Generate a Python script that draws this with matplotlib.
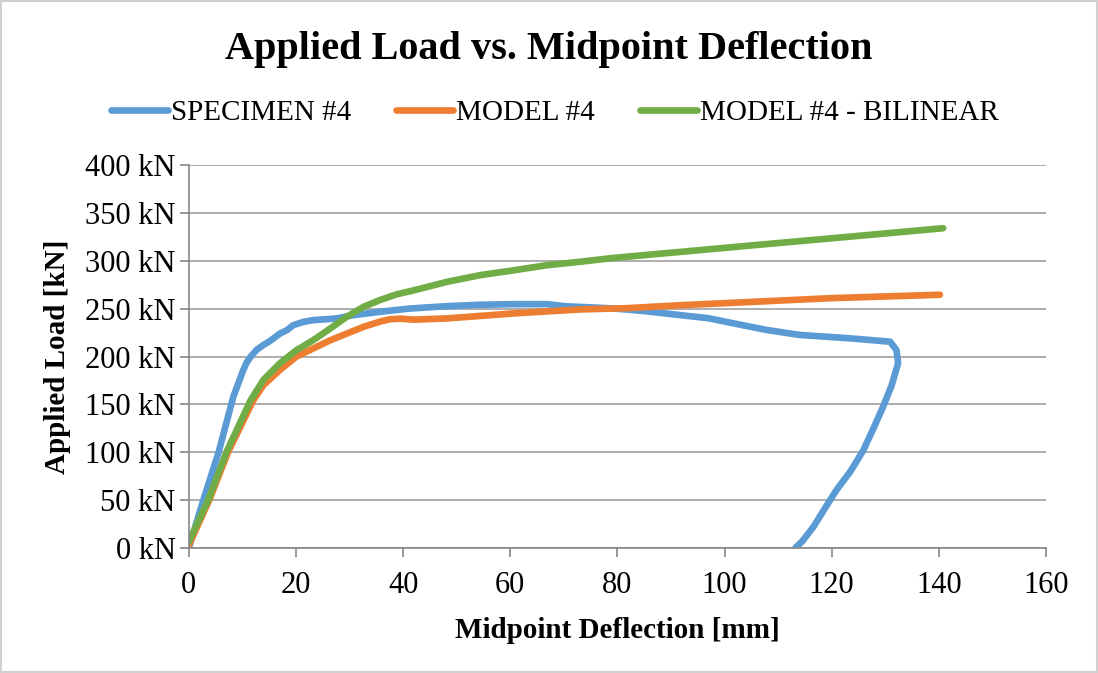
import matplotlib
matplotlib.use("Agg")
import matplotlib.pyplot as plt
from matplotlib.patches import Rectangle

# data (deflection mm, load kN)
spec_x = [0, 2.7, 5.55, 8.3, 9.5, 10.1, 10.8, 11.7, 12.65, 13.9, 15.1, 17.0, 18.3,
          19.5, 21.4, 23.2, 25.1, 27.6, 30.7, 35.7, 41.0, 48.2, 54.0, 60.6, 66.9, 70.0,
          79.3, 85.0, 91.8, 97.0, 104.9, 107.9, 114.1, 123.4, 130.9, 132.1, 132.4,
          131.2, 129.6, 127.8, 125.9, 123.5, 120.9, 118.8, 116.6, 114.5, 113.2]
spec_y = [0, 50, 100, 158, 176, 185, 194, 201, 207, 212, 216, 224, 227.5,
          232.8, 236.2, 238, 238.7, 239.8, 243.2, 246.7, 250, 252.6, 254, 254.7, 254.7, 252.6,
          250.2, 247.5, 243.2, 240, 231, 227.7, 222.5, 219, 215.5, 206.8, 193,
          170, 147.6, 125, 102, 80, 60.6, 42, 22.2, 7, 0]

model_x = [0, 3.8, 7.3, 12.0, 13.9, 17.0, 20.1, 26.4, 32.6, 35.7, 37.6, 39.5, 41.9, 48.2,
           60.6, 73.1, 81.8, 91.8, 104.9, 120.0, 140.2]
model_y = [3, 50, 100, 154, 170, 186, 200, 217, 231, 236.5, 239, 239.5, 238.5, 239.8,
           245, 249.2, 250.5, 253.6, 257, 261, 264.5]

bilin_x = [0, 3.6, 7.0, 11.5, 13.9, 17.0, 20.1, 23.2, 26.4, 29.5, 32.6,
           35.7, 38.8, 41.9, 48.2, 54.4, 60.6, 66.9, 73.1, 79.3, 91.8, 105.0, 125.0, 140.8]
bilin_y = [6.6, 50, 100, 154, 175.5, 193, 206.7, 217, 229.3, 241.6,
           251.9, 259, 265, 269, 278, 285, 290, 295.4, 299, 303, 309.3, 316, 326, 334]

series = [
    ("SPECIMEN #4", spec_x, spec_y, "#5B9BD5"),
    ("MODEL #4", model_x, model_y, "#ED7D31"),
    ("MODEL #4 - BILINEAR", bilin_x, bilin_y, "#70AD47"),
]

y_ticks = [0, 50, 100, 150, 200, 250, 300, 350, 400]
x_ticks = [0, 20, 40, 60, 80, 100, 120, 140, 160]

plt.rcParams['font.family'] = ['Liberation Serif', 'DejaVu Serif']

fig = plt.figure(figsize=(10.98, 6.73), dpi=100)
ax = fig.add_axes([0.172, 0.1857, 0.7806, 0.5691])

for name, xs, ys, col in series:
    ax.plot(xs, ys, color=col, lw=4.8, label=name, solid_capstyle='round',
            solid_joinstyle='round')

ax.set_xlim(0, 160)
ax.set_ylim(0, 400)
ax.set_xticks(x_ticks)
ax.set_yticks(y_ticks)
ax.set_yticklabels([f"{v} kN" for v in y_ticks])
ax.tick_params(axis='both', labelsize=22, colors='#868686', labelcolor='black',
               length=6.5, width=1.2)
ax.tick_params(axis='x', pad=10)
ax.tick_params(axis='y', pad=3)
ax.grid(axis='y', color='#A0A0A0', lw=1.2)
ax.set_axisbelow(True)
for s in ['top', 'right']:
    ax.spines[s].set_visible(False)
for s in ['left', 'bottom']:
    ax.spines[s].set_color('#868686')
    ax.spines[s].set_linewidth(1.2)

ax.set_xlabel("Midpoint Deflection [mm]", fontsize=21, fontweight='bold', labelpad=12)
ax.set_ylabel("Applied Load [kN]", fontsize=21, fontweight='bold', labelpad=10)

fig.text(0.5, 0.927, "Applied Load vs. Midpoint Deflection", ha='center', va='center',
         fontsize=29, fontweight='bold')
fig.legend(loc='center', bbox_to_anchor=(0.505, 0.832), ncol=3, frameon=False,
           fontsize=21, handlelength=1.95, handletextpad=0.1, columnspacing=1.55)

fig.patches.append(Rectangle((0.001, 0.001), 0.998, 0.997, transform=fig.transFigure,
                             fill=False, edgecolor='#D0D0D0', lw=1.5))

fig.savefig("out.png", dpi=100)
